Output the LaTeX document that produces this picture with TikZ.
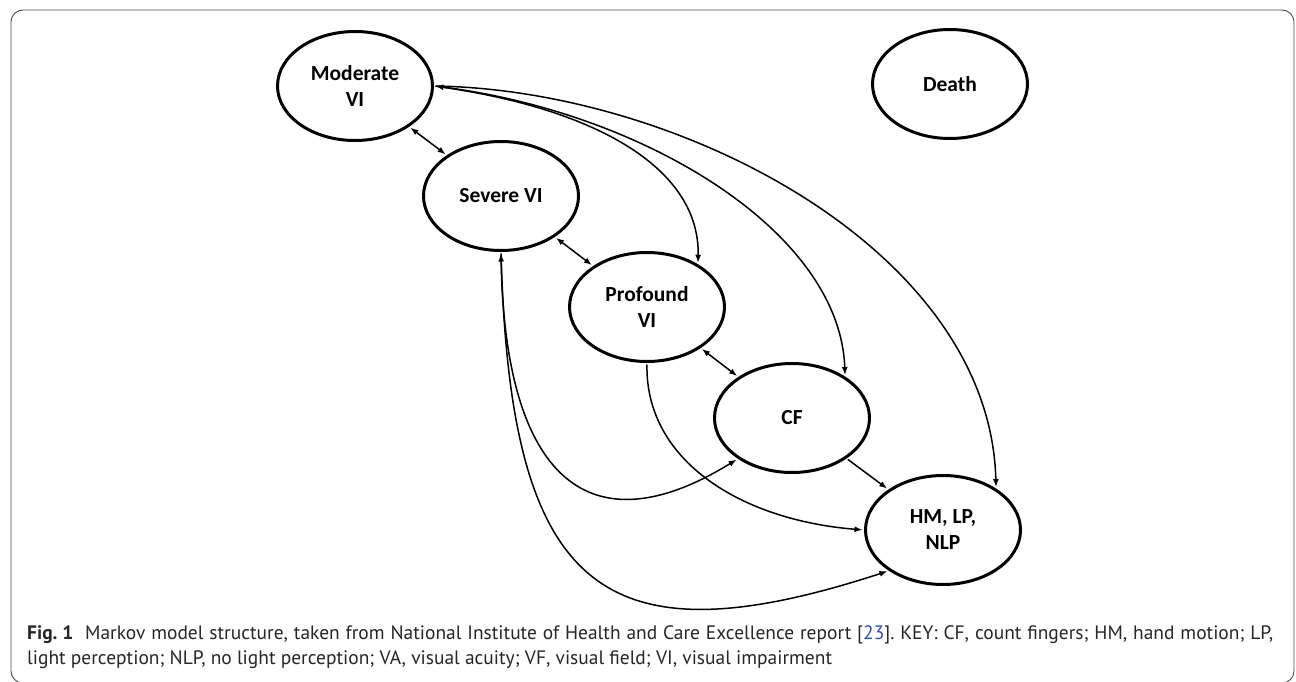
\documentclass[tikz,border=0pt]{standalone}
\usepackage{fontspec}
\setsansfont{Carlito}
\newfontfamily\capfont{PT Sans}
\usepackage{tikz}
\usetikzlibrary{arrows.meta,shapes.geometric}
\definecolor{linkblue}{RGB}{45,75,205}
\tikzset{%
  >={Latex[length=8pt,width=6pt]},
  st/.style={draw,ellipse,line width=3pt,minimum width=155pt,minimum height=109pt,%
    inner sep=0pt,align=center,font=\fontsize{21.5}{26}\selectfont\sffamily\bfseries},
  tr/.style={draw,line width=1.5pt,<->,shorten <=1.5pt,shorten >=1.5pt},
  tr1/.style={draw,line width=1.5pt,->,shorten <=1.5pt,shorten >=1.5pt},
  captext/.style={anchor=base west,inner sep=0pt,text=black!85,%
    font=\fontsize{19.45}{25}\selectfont\capfont\frenchspacing}
}
\begin{document}
\begin{tikzpicture}[x=1pt,y=-1pt]
	\useasboundingbox (0,0) rectangle (1296,682);
	\draw[rounded corners=12pt,line width=0.9pt,black!70] (11,10) rectangle (1294,683);
	% states
	\node[st] (mod) at (355,86) {Moderate\\VI};
	\node[st] (sev) at (501,196) {Severe VI};
	\node[st] (prof) at (647,307) {Profound\\VI};
	\node[st] (cf) at (792,418) {CF};
	\node[st] (hm) at (943,530) {HM, LP,\\NLP};
	\node[st] (death) at (950,84) {Death};
	% transitions
	\draw[tr] (mod) -- (sev);
	\draw[tr] (sev) -- (prof);
	\draw[tr] (prof) -- (cf);
	\draw[tr1] (cf) -- (hm);
	\draw[tr] (mod.east) .. controls (600,110) and (700,170) .. (prof.40);
	\draw[tr1] (mod.east) .. controls (640,110) and (840,230) .. (cf.38);
	\draw[tr1] (mod.east) .. controls (680,90) and (990,250) .. (hm.38);
	\draw[tr1] (prof.south) .. controls (645,460) and (740,520) .. (hm.west);
	\draw[tr] (sev.south) .. controls (505,480) and (590,550) .. (cf.217);
	\draw[tr1] (sev.south) .. controls (510,590) and (600,665) .. (hm.217);
	% caption
	\node[captext] (cap1) at (27,639) {\makebox[1246pt][s]{\textbf{\mbox{Fig. 1}}\hspace{0.6em}Markov model structure, taken from National Institute of Health and Care Excellence report [\textcolor{linkblue}{23}]. KEY: CF, count fingers; HM, hand motion; LP,}};
	\node[captext] (cap2) at (27,664) {light perception; NLP, no light perception; VA, visual acuity; VF, visual field; VI, visual impairment};
\end{tikzpicture}
\end{document}
